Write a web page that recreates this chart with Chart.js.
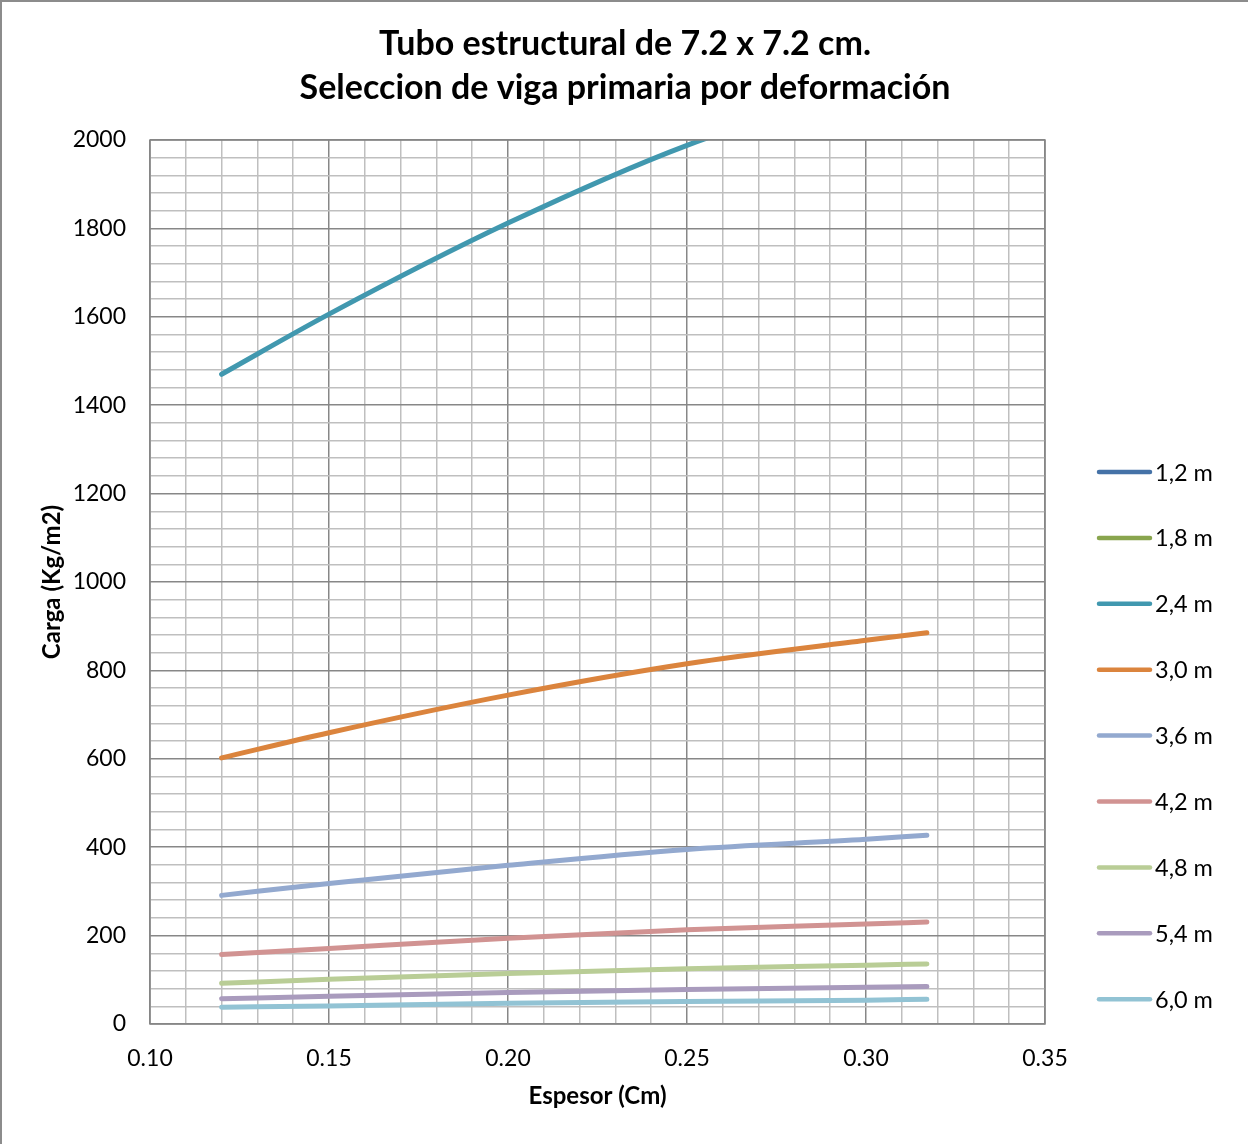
<!DOCTYPE html>
<html>
<head>
<meta charset="utf-8">
<script src="https://cdn.jsdelivr.net/npm/chart.js@4/dist/chart.umd.min.js"></script>
<style>
  html, body { margin: 0; padding: 0; background: #fff; }
  #wrap { position: relative; width: 1248px; height: 1144px; }
</style>
</head>
<body>
<div id="wrap"><canvas id="c" width="1248" height="1144"></canvas></div>
<script>
// ---- data ----
const titleLines = ['Tubo estructural de 7.2 x 7.2 cm.', 'Seleccion de viga primaria por deformación'];
const xTitle = 'Espesor (Cm)';
const yTitle = 'Carga (Kg/m2)';
const espesor = [0.12, 0.15, 0.20, 0.25, 0.30, 0.317];
const seriesLabels = ['1,2 m', '1,8 m', '2,4 m', '3,0 m', '3,6 m', '4,2 m', '4,8 m', '5,4 m', '6,0 m'];
const s12 = [23500, 25740, 29060, 31830, 33900, 34570];
const s18 = [4645, 5085, 5740, 6290, 6700, 6830];
const s24 = [1470, 1606, 1812, 1988, 2118, 2160];
const s30 = [602, 659, 744, 815, 868, 885];
const s36 = [291, 318, 359, 395, 418, 427];
const s42 = [157, 171, 194, 213, 226, 231];
const s48 = [92, 101, 114, 125, 133, 136];
const s54 = [57, 63, 71, 78, 83, 85];
const s60 = [38, 41, 47, 51, 54, 56];
const seriesValues = [s12, s18, s24, s30, s36, s42, s48, s54, s60];
const colors = ['#4572A7', '#89A54E', '#4198AF', '#DB843D', '#93A9CF', '#D19392', '#B9CD96', '#A99BBD', '#92C3D4'];
const xTicks = [0.10, 0.15, 0.20, 0.25, 0.30, 0.35];
const yTicks = [0, 200, 400, 600, 800, 1000, 1200, 1400, 1600, 1800, 2000];

const FONT = 'Lato, "Open Sans", sans-serif';

const datasets = seriesLabels.map((lab, i) => ({
  label: lab,
  data: espesor.map((x, j) => ({ x: x, y: seriesValues[i][j] })),
  borderColor: colors[i],
  backgroundColor: colors[i],
  borderWidth: 5,
  borderCapStyle: 'round',
  borderJoinStyle: 'round',
  pointRadius: 0,
  pointHoverRadius: 0,
  fill: false,
  cubicInterpolationMode: 'monotone'
}));

const isMajor = (v, step) => Math.abs(v / step - Math.round(v / step)) < 1e-6;

const decor = {
  id: 'decor',
  beforeDraw(chart) {
    const ctx = chart.ctx;
    ctx.save();
    ctx.fillStyle = '#fff';
    ctx.fillRect(0, 0, chart.width, chart.height);
    ctx.restore();
  },
  afterDraw(chart) {
    const ctx = chart.ctx;
    const area = chart.chartArea;
    ctx.save();
    // outer border (left/top)
    ctx.strokeStyle = '#8c8c8c';
    ctx.lineWidth = 2;
    ctx.beginPath();
    ctx.moveTo(1, 1144); ctx.lineTo(1, 1); ctx.lineTo(1248, 1);
    ctx.stroke();
    // plot frame
    ctx.strokeStyle = '#868686';
    ctx.lineWidth = 1.5;
    ctx.strokeRect(area.left, area.top, area.right - area.left, area.bottom - area.top);
    // title
    ctx.fillStyle = '#000';
    ctx.font = 'bold 34px ' + FONT;
    ctx.textAlign = 'center';
    ctx.textBaseline = 'middle';
    ctx.fillText(titleLines[0], 625, 44);
    ctx.fillText(titleLines[1], 625, 88);
    // legend
    ctx.font = '23.5px ' + FONT;
    ctx.textAlign = 'left';
    chart.data.datasets.forEach((ds, i) => {
      const y = 472 + i * 65.9;
      ctx.strokeStyle = ds.borderColor;
      ctx.lineWidth = 4.5;
      ctx.lineCap = 'round';
      ctx.beginPath();
      ctx.moveTo(1099, y); ctx.lineTo(1150, y);
      ctx.stroke();
      ctx.fillStyle = '#000';
      ctx.fillText(ds.label, 1155, y + 1);
    });
    ctx.restore();
  }
};

new Chart(document.getElementById('c'), {
  type: 'line',
  data: { datasets },
  options: {
    responsive: false,
    animation: false,
    devicePixelRatio: 1,
    layout: { padding: { left: 0, right: 203, top: 140, bottom: 0 } },
    plugins: { legend: { display: false }, title: { display: false }, tooltip: { enabled: false } },
    scales: {
      x: {
        type: 'linear',
        min: 0.10, max: 0.35,
        afterFit(s) { s.height = 120; },
        afterBuildTicks(s) {
          const t = [];
          for (let k = 0; k <= 25; k++) t.push({ value: +(0.10 + k * 0.01).toFixed(2) });
          s.ticks = t;
        },
        ticks: {
          autoSkip: false,
          maxRotation: 0,
          padding: 21,
          color: '#000',
          font: { family: FONT, size: 23 },
          callback(v) { return xTicks.some(t => Math.abs(t - v) < 1e-6) ? v.toFixed(2) : ''; }
        },
        grid: {
          drawTicks: false,
          color(c) { return isMajor(c.tick.value, 0.05) ? '#878787' : '#bfbfbf'; },
          lineWidth(c) { return 1.5; }
        },
        border: { display: false },
        title: { display: true, text: xTitle, color: '#000', font: { family: FONT, size: 24, weight: 'bold' }, padding: { top: 0, bottom: 33 } }
      },
      y: {
        type: 'linear',
        min: 0, max: 2000,
        afterFit(s) { s.width = 150; },
        afterBuildTicks(s) {
          const t = [];
          for (let k = 0; k <= 50; k++) t.push({ value: k * 40 });
          s.ticks = t;
        },
        ticks: {
          autoSkip: false,
          padding: 24,
          color: '#000',
          font: { family: FONT, size: 23 },
          callback(v) { return yTicks.includes(v) ? String(v) : ''; }
        },
        grid: {
          drawTicks: false,
          color(c) { return isMajor(c.tick.value, 200) ? '#878787' : '#bfbfbf'; },
          lineWidth(c) { return 1.5; }
        },
        border: { display: false },
        title: { display: true, text: yTitle, color: '#000', font: { family: FONT, size: 24, weight: 'bold' }, padding: { top: 38, bottom: 0 } }
      }
    }
  },
  plugins: [decor]
});
</script>
</body>
</html>
